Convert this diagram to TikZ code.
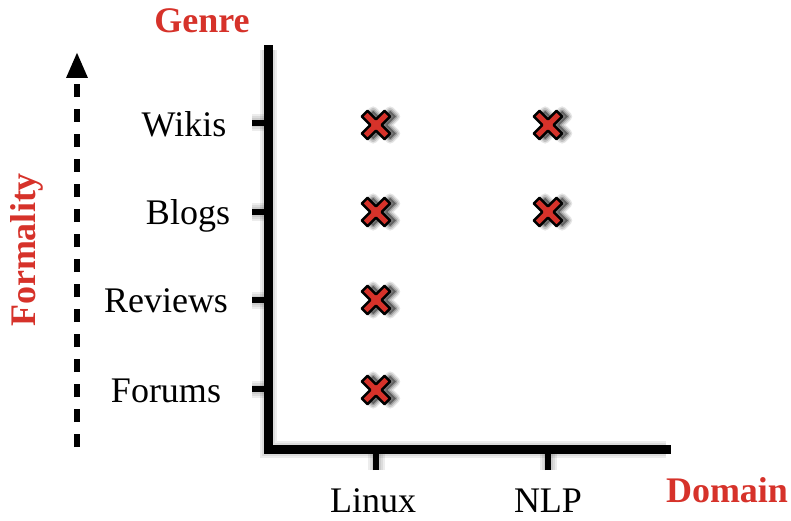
\documentclass[tikz,border=0pt]{standalone}
\usepackage{fontspec}
\setmainfont{Liberation Serif}
\usetikzlibrary{arrows.meta}
\definecolor{myred}{RGB}{214,50,42}
\tikzset{
  axisline/.style={line width=9pt, line cap=rect},
  tickline/.style={line width=6pt},
  shadowline/.style={line width=#1, draw=black, opacity=0.07},
  lbl/.style={font=\fontsize{36}{40}\selectfont, anchor=base, inner sep=0pt},
  redlbl/.style={font=\fontsize{36}{40}\selectfont\bfseries, text=myred, anchor=base, inner sep=0pt},
  pics/xmark/.style={code={
    \foreach \w/\o in {9pt/0.10,6pt/0.14,3pt/0.20}{
      \fill[black, opacity=\o, draw=black, line width=\w, line join=round, rotate=45, shift={(4pt,-4pt)}]
        (-4,16)--(4,16)--(4,4)--(16,4)--(16,-4)--(4,-4)--(4,-16)--(-4,-16)--(-4,-4)--(-16,-4)--(-16,4)--(-4,4)--cycle;
    }
    \filldraw[fill=myred, draw=black, line width=2.5pt, line join=round, rotate=45]
      (-4,16)--(4,16)--(4,4)--(16,4)--(16,-4)--(4,-4)--(4,-16)--(-4,-16)--(-4,-4)--(-16,-4)--(-16,4)--(-4,4)--cycle;
  }}
}
\begin{document}
\begin{tikzpicture}[x=1pt,y=-1pt]
\useasboundingbox (0,0) rectangle (791,521);
% coordinates
\coordinate (top) at (268,50);
\coordinate (origin) at (268,449);
\coordinate (right) at (666,449);
\coordinate (yt1) at (252,123);
\coordinate (yt2) at (252,212);
\coordinate (yt3) at (252,300);
\coordinate (yt4) at (252,389);
\coordinate (xt1) at (376,470);
\coordinate (xt2) at (548,470);
% shadows of axes
\begin{scope}[shift={(4,6)}]
  \foreach \w in {17pt,13pt,9pt}{
    \draw[shadowline=\w] (top) -- (origin) -- (right);
    \draw[shadowline=\w] (yt1) -- (yt1 -| top);
    \draw[shadowline=\w] (yt2) -- (yt2 -| top);
    \draw[shadowline=\w] (yt3) -- (yt3 -| top);
    \draw[shadowline=\w] (yt4) -- (yt4 -| top);
    \draw[shadowline=\w] (xt1) -- (xt1 |- origin);
    \draw[shadowline=\w] (xt2) -- (xt2 |- origin);
  }
\end{scope}
% axes
\draw[axisline, line join=miter] (top) -- (origin) -- (right);
\foreach \t in {yt1,yt2,yt3,yt4}{
  \draw[tickline] (\t) -- (\t -| top);
}
\draw[tickline] (xt1) -- (xt1 |- origin);
\draw[tickline] (xt2) -- (xt2 |- origin);
% labels
\node[lbl] (wikis) at (184,137) {Wikis};
\node[lbl] (blogs) at (188,225) {Blogs};
\node[lbl] (reviews) at (166,312) {Reviews};
\node[lbl] (forums) at (166,402) {Forums};
\node[lbl] (linux) at (373,512) {Linux};
\node[lbl] (nlp) at (548,512) {NLP};
\node[redlbl] (genre) at (202,33) {Genre};
\node[redlbl] (domain) at (727,502) {Domain};
\node[redlbl, rotate=90] (formality) at (35,250) {Formality};
% dashed arrow
\coordinate (abot) at (77,447);
\coordinate (atop) at (77,52);
\draw[line width=6pt, dash pattern=on 13pt off 12pt, -{Triangle[width=20pt,length=26pt]}] (abot) -- (atop);
% marks
\pic at (376,125) {xmark};
\pic at (548,125) {xmark};
\pic at (376,212) {xmark};
\pic at (548,212) {xmark};
\pic at (376,300) {xmark};
\pic at (376,390) {xmark};
\end{tikzpicture}
\end{document}
